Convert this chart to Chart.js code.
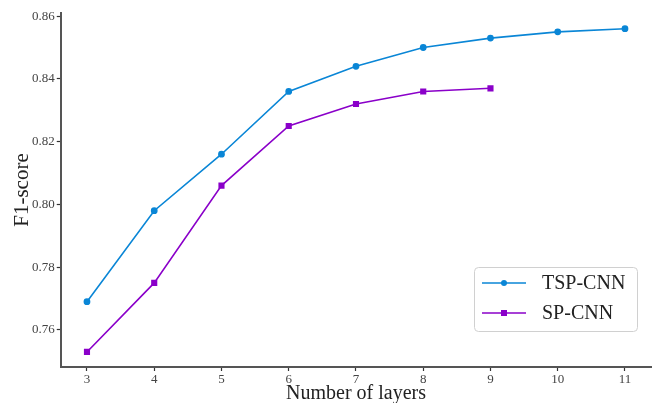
<!DOCTYPE html>
<html>
<head>
<meta charset="utf-8">
<script src="https://cdn.jsdelivr.net/npm/chart.js@4/dist/chart.umd.min.js"></script>
<style>
html,body{margin:0;padding:0;background:#fff;}
#wrap{width:656px;height:403px;position:relative;}
</style>
</head>
<body>
<div id="wrap"><canvas id="c" width="656" height="403"></canvas></div>
<script>
const layers = [3, 4, 5, 6, 7, 8, 9, 10, 11];
const tspCnn = [0.769, 0.798, 0.816, 0.836, 0.844, 0.850, 0.853, 0.855, 0.856];
const spCnn = [0.753, 0.775, 0.806, 0.825, 0.832, 0.836, 0.837];
const yTicks = [0.76, 0.78, 0.80, 0.82, 0.84, 0.86];
const seriesNames = ['TSP-CNN', 'SP-CNN'];
const xTitle = 'Number of layers';
const yTitle = 'F1-score';

const BLUE = '#0a86d6';
const PURPLE = '#8a00c9';
const FONT = "'Liberation Serif', 'DejaVu Serif', serif";

const legendPlugin = {
  id: 'boxLegend',
  afterDraw(chart) {
    const ctx = chart.ctx;
    const x0 = 474, y0 = 267, w = 163, h = 64;
    ctx.save();
    ctx.fillStyle = 'rgba(255,255,255,0.9)';
    ctx.strokeStyle = '#d0d0d0';
    ctx.lineWidth = 1;
    ctx.beginPath();
    ctx.roundRect(x0 + 0.5, y0 + 0.5, w, h, 4);
    ctx.fill();
    ctx.stroke();
    const rows = [
      {name: seriesNames[0], color: BLUE, style: 'circle', y: y0 + 16},
      {name: seriesNames[1], color: PURPLE, style: 'rect', y: y0 + 46}
    ];
    rows.forEach(r => {
      ctx.strokeStyle = r.color;
      ctx.lineWidth = 1.6;
      ctx.beginPath();
      ctx.moveTo(x0 + 8, r.y);
      ctx.lineTo(x0 + 52, r.y);
      ctx.stroke();
      ctx.fillStyle = r.color;
      if (r.style === 'circle') {
        ctx.beginPath();
        ctx.arc(x0 + 30, r.y, 3, 0, Math.PI * 2);
        ctx.fill();
      } else {
        ctx.fillRect(x0 + 27, r.y - 3, 6, 6);
      }
      ctx.fillStyle = '#222';
      ctx.font = "20px " + FONT;
      ctx.textBaseline = 'middle';
      ctx.textAlign = 'left';
      ctx.fillText(r.name, x0 + 68, r.y + 1);
    });
    ctx.restore();
  }
};

new Chart(document.getElementById('c'), {
  type: 'line',
  data: {
    datasets: [
      {
        label: seriesNames[0],
        data: layers.map((l, i) => ({x: l, y: tspCnn[i]})),
        borderColor: BLUE,
        backgroundColor: BLUE,
        borderWidth: 1.6,
        pointStyle: 'circle',
        pointRadius: 2.6,
        pointHoverRadius: 2.6,
        tension: 0
      },
      {
        label: seriesNames[1],
        data: spCnn.map((v, i) => ({x: layers[i], y: v})),
        borderColor: PURPLE,
        backgroundColor: PURPLE,
        borderWidth: 1.6,
        pointStyle: 'rect',
        pointRadius: 3.2,
        pointHoverRadius: 3.2,
        tension: 0
      }
    ]
  },
  options: {
    responsive: false,
    animation: false,
    devicePixelRatio: 1,
    layout: {padding: {top: 13, right: 4, left: 5, bottom: -3}},
    plugins: {legend: {display: false}, tooltip: {enabled: false}},
    scales: {
      x: {
        type: 'linear',
        min: 2.61,
        max: 11.39,
        afterBuildTicks: (axis) => { axis.ticks = layers.map(v => ({value: v})); },
        grid: {drawOnChartArea: false, drawTicks: true, tickLength: 4, color: '#333', tickWidth: 1.2},
        border: {display: true, color: '#555', width: 2},
        ticks: {color: '#444', font: {family: FONT, size: 13, lineHeight: 1}, padding: 2, maxRotation: 0,
                callback: v => String(v)},
        title: {display: true, text: xTitle, color: '#222', font: {family: FONT, size: 20, lineHeight: 1}, padding: {top: -4, bottom: 2}}
      },
      y: {
        type: 'linear',
        min: 0.7482,
        max: 0.861,
        afterBuildTicks: (axis) => { axis.ticks = yTicks.map(v => ({value: v})); },
        grid: {drawOnChartArea: false, drawTicks: true, tickLength: 4, color: '#333', tickWidth: 1.2},
        border: {display: true, color: '#555', width: 2},
        ticks: {color: '#444', font: {family: FONT, size: 13}, padding: 2,
                callback: v => v.toFixed(2)},
        title: {display: true, text: yTitle, color: '#222', font: {family: FONT, size: 21, lineHeight: 1}, padding: {top: 7, bottom: -3}}
      }
    }
  },
  plugins: [legendPlugin]
});
</script>
</body>
</html>
